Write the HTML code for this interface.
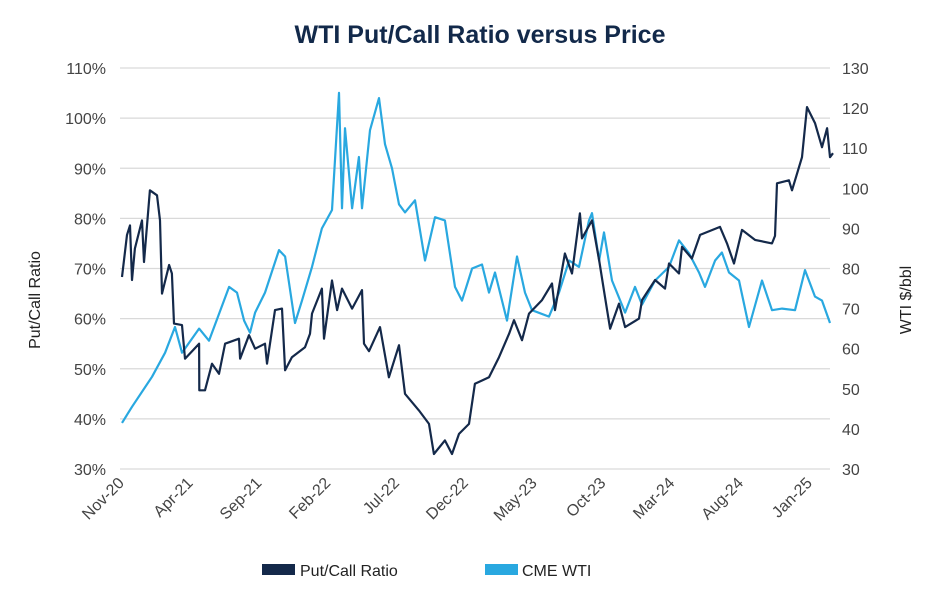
<!DOCTYPE html>
<html><head><meta charset="utf-8"><style>
body{margin:0;background:#fff;font-family:"Liberation Sans",sans-serif}
svg text{font-family:"Liberation Sans",sans-serif}
</style></head><body>
<svg id="chart" width="940" height="600">
<text x="480" y="43" text-anchor="middle" font-size="25" font-weight="bold" fill="#12294a">WTI Put/Call Ratio versus Price</text>
<g id="grid"></g><g id="ticks"></g><g id="series"></g>
<text transform="translate(40,300) rotate(-90)" text-anchor="middle" font-size="16" fill="#222">Put/Call Ratio</text>
<text transform="translate(911,300) rotate(-90)" text-anchor="middle" font-size="16" fill="#222">WTI $/bbl</text>
<g>
<rect x="262" y="564" width="33" height="11" fill="#14294a"/>
<text x="300" y="576" font-size="16" fill="#222">Put/Call Ratio</text>
<rect x="485" y="564" width="33" height="11" fill="#29a8e0"/>
<text x="522" y="576" font-size="16" fill="#222">CME WTI</text>
</g>
</svg>
<script>
const xTickLabels=["Nov-20","Apr-21","Sep-21","Feb-22","Jul-22","Dec-22","May-23","Oct-23","Mar-24","Aug-24","Jan-25"];
const xTickMonths=[0,5,10,15,20,25,30,35,40,45,50];
const leftTicks=[30,40,50,60,70,80,90,100,110];
const rightTicks=[30,40,50,60,70,80,90,100,110,120,130];
const pcMonths=[0,0.36,0.58,0.73,0.94,1.45,1.6,2.03,2.54,2.76,2.91,3.42,3.63,3.78,4.36,4.58,5.6,5.62,6.03,6.54,7.05,7.49,8.5,8.58,9.23,9.67,10.39,10.54,11.12,11.63,11.85,12.35,13.3,13.66,13.81,14.53,14.68,15.26,15.63,15.99,16.72,17.44,17.59,17.95,18.75,19.4,20.13,20.57,21.58,22.31,22.67,23.47,23.98,24.49,25.22,25.65,26.67,27.4,28.13,28.49,29.07,29.58,30.52,31.25,31.47,32.19,32.7,33.28,33.43,34.16,34.67,35.1,35.47,36.12,36.56,37.57,37.79,38.74,39.46,39.75,40.48,40.7,41.42,42.01,43.46,43.97,44.48,45.06,46,47.24,47.46,47.6,48.47,48.69,49.42,49.78,50.36,50.87,51.24,51.45,51.67];
const pcValues=[68.3,76.7,78.6,67.7,74,79.6,71.3,85.6,84.6,79.6,65,70.7,69,59,58.7,52,55,45.7,45.7,51,49,55,56,52,56.7,54,55,51,61.7,62,49.7,52.3,54.3,57,61,66,56,67.6,61.7,66,62,65.7,55,53.5,58.3,48.3,54.7,45,41.7,39,33,35.7,33,37,39,47,48.3,52.3,57,59.7,55.7,61,63.7,67,61.7,73,69,81,76,79.6,71.7,64.3,58,63,58.3,60,63.7,67.7,66,71,69,74.3,72,76.7,78.3,75,71,77.7,75.7,75,76.5,87,87.6,85.6,92.2,102.2,99,94.2,98,92.2,93];
const wtiMonths=[0,0.73,2.18,3.13,3.85,4.36,5.6,6.32,7.78,8.36,8.87,9.3,9.67,10.39,11.41,11.85,12.57,13.08,13.81,14.53,15.26,15.77,15.99,16.21,16.72,17.22,17.44,18.02,18.68,19.11,19.62,20.13,20.57,21.29,22.02,22.75,23.47,24.2,24.71,25.44,26.16,26.67,27.11,27.98,28.71,29.29,29.8,31.03,31.76,32.49,33.21,33.94,34.16,34.67,35.03,35.61,36.56,37.28,37.79,38.74,39.75,40.48,41.21,41.93,42.37,43.1,43.6,44.11,44.84,45.57,46.51,47.24,47.97,48.91,49.64,50.36,50.87,51.45];
const wtiValues=[41.5,45.5,53,59,65.4,59,65,62,75.4,74,67,64,69,74,84.6,83,66.4,72,80.4,90,94.6,123.8,95,115,95,107.8,95,114.5,122.5,111,105,96,94,97,82,92.8,92,75.4,72,80,81,74,79,67,83,74,69.6,68,74,82,80.4,92,93.8,82,89,77,69,75.4,71,77,80.4,87,83.8,79,75.4,82,84,79,77,65.4,77,69.6,70,69.6,79.6,73,72,66.4];

const NS="http://www.w3.org/2000/svg";
const X=t=>122+t*13.76;
const YL=v=>68+(110-v)*5.0125;
const YR=v=>68+(130-v)*4.01;
function mk(tag,attrs,parent,txt){const e=document.createElementNS(NS,tag);for(const k in attrs)e.setAttribute(k,attrs[k]);if(txt!==undefined)e.textContent=txt;parent.appendChild(e);return e;}
const grid=document.getElementById('grid'),ticks=document.getElementById('ticks'),series=document.getElementById('series');
leftTicks.forEach(v=>{
  const l=mk('line',{x1:120,x2:830,y1:YL(v),y2:YL(v),stroke:'#d9d9d9','stroke-width':1.3},grid);
  
  
  const t=mk('text',{x:106,y:YL(v)+6,'text-anchor':'end','font-size':16,fill:'#444'},ticks,v+'%');
  
  
});
rightTicks.forEach(v=>{
  const t=mk('text',{x:842,y:YR(v)+6,'font-size':16,fill:'#444'},ticks,String(v));
  
  
});
xTickLabels.forEach((lab,i)=>{
  const x=X(xTickMonths[i])+3,y=484;
  const t=mk('text',{x:x,y:y,'text-anchor':'end','font-size':16,fill:'#444',transform:`rotate(-45 ${x} ${y})`},ticks,lab);
  
  
});
function line(ms,vs,yf,color,name){
  const d=ms.map((m,i)=>(i?'L':'M')+X(m).toFixed(1)+','+yf(vs[i]).toFixed(1)).join('');
  const p=mk('path',{d:d,fill:'none',stroke:color,'stroke-width':2.2,'stroke-linejoin':'round'},series);
  
  
}
line(wtiMonths,wtiValues,YR,'#29a8e0','wti-price-line');
line(pcMonths,pcValues,YL,'#14294a','put-call-ratio-line');
</script>
</body></html>
